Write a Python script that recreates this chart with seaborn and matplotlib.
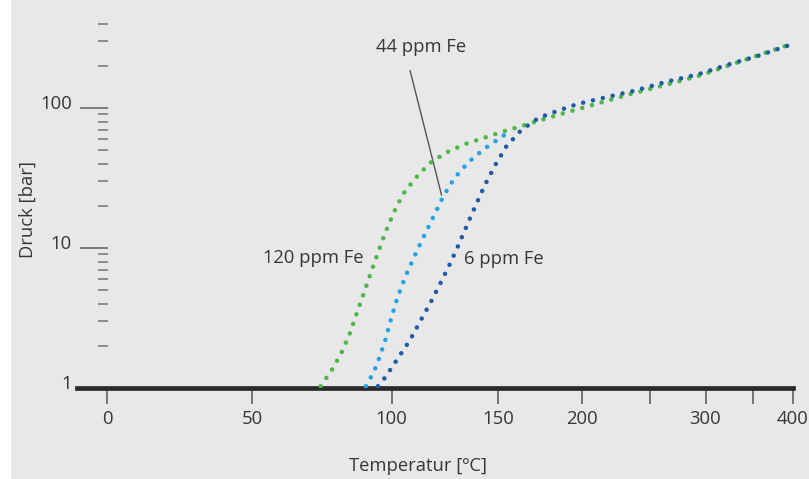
import numpy as np
import pandas as pd
import matplotlib
matplotlib.use("Agg")
import matplotlib.pyplot as plt
import matplotlib.transforms as mtransforms
from matplotlib.ticker import FixedLocator, FixedFormatter, NullLocator
from matplotlib.patches import Rectangle
import seaborn as sns

# ---- data ----
T_120 = [72.7, 76.7, 80.3, 83.3, 86.0, 88.8, 91.5, 94.4, 97.4, 101.0, 104.8, 110.2,
         116.4, 124.3, 133.2, 143.0, 153.2, 165.0, 176.9, 189.1, 209.9, 232.4, 256.4,
         292.7, 394.5]
P_120 = [1.03, 1.34, 1.79, 2.42, 3.39, 4.75, 6.60, 9.25, 12.9, 18.1, 24.3, 31.6,
         40.3, 48.2, 55.3, 61.4, 68.2, 75.6, 83.9, 92.5, 107, 124, 141, 169, 282]

T_44 = [89.6, 92.2, 94.2, 95.8, 97.4, 99.7, 102.3, 105.6, 109.5, 113.7, 118.1, 122.5,
        127.8, 134.8, 142.9, 152.7, 157.1]
P_44 = [1.03, 1.25, 1.50, 1.82, 2.20, 3.10, 4.37, 6.14, 8.58, 12.0, 16.6, 23.0,
        31.3, 41.0, 51.2, 63.1, 69.3]

T_6 = [94.4, 97.5, 102.5, 107.7, 112.2, 117.0, 121.6, 126.0, 130.3, 134.5, 138.8,
       143.4, 148.6, 154.4, 162.7, 172.7, 184.7, 197.4, 217.8, 239.6, 262.9, 292.8,
       323.0, 356.6, 394.5]
P_6 = [1.03, 1.20, 1.62, 2.19, 2.99, 4.11, 5.69, 7.78, 10.8, 15.0, 20.7, 28.7, 39.2,
       52.9, 69.3, 84.8, 95.7, 107, 120, 134, 153, 174, 204, 236, 280]

series_names = ["120 ppm Fe", "44 ppm Fe", "6 ppm Fe"]
x_tick_pos = [10.35, 50, 100, 150, 200, 250, 300, 350, 400]
x_tick_lab = ["0", "50", "100", "150", "200", "", "300", "", "400"]
y_major = [1, 10, 100]
y_major_lab = ["1", "10", "100"]
y_minor = [2, 3, 4, 5, 6, 7, 8, 9, 20, 30, 40, 50, 60, 70, 80, 90, 200, 300, 400]

colors = {"120 ppm Fe": "#4cb847", "44 ppm Fe": "#20a4e6", "6 ppm Fe": "#1f5ca6"}

df = pd.concat([
    pd.DataFrame({"T": T_120, "P": P_120, "s": series_names[0]}),
    pd.DataFrame({"T": T_44, "P": P_44, "s": series_names[1]}),
    pd.DataFrame({"T": T_6, "P": P_6, "s": series_names[2]}),
], ignore_index=True)

# ---- figure ----
sns.set_theme(style="white")
plt.rcParams["font.family"] = ["Open Sans", "DejaVu Sans"]
BG = "#e8e8e8"
TXT = "#363636"
FS_TICK = 13.3
FS_LAB = 13.2

W, H = 809, 479
fig = plt.figure(figsize=(W / 100, H / 100), dpi=100, facecolor=BG)
fig.patches.append(Rectangle((0, 0), 11 / W, 1, transform=fig.transFigure,
                             facecolor="white", edgecolor="none", zorder=-10))
ax = fig.add_axes([77 / W, 1 - 388 / H, (793 - 77) / W, (388 - 15) / H])
ax.set_facecolor(BG)


def fwd(t):
    t = np.asarray(t, dtype=float)
    with np.errstate(divide="ignore", invalid="ignore"):
        return -1000.0 / (t + 273.15)


def inv(u):
    u = np.asarray(u, dtype=float)
    with np.errstate(divide="ignore", invalid="ignore"):
        return -1000.0 / u - 273.15


ax.set_xscale("function", functions=(fwd, inv))
ax.set_yscale("log")

dot = (0, (0.001, 2.2))
for i, name in enumerate(series_names):
    sub = df[df["s"] == name]
    sns.lineplot(data=sub, x="T", y="P", ax=ax, color=colors[name], lw=3.3,
                 linestyle=dot, dash_capstyle="round", estimator=None,
                 sort=False, errorbar=None, legend=False, zorder=6 + i)

ax.set_xlim(3.3, 400.6)
ax.set_ylim(1, 10 ** (373 / 140))

# spines
for s in ["top", "right", "left"]:
    ax.spines[s].set_visible(False)
ax.spines["bottom"].set_linewidth(3.4)
ax.spines["bottom"].set_color("#2a2a2a")
ax.spines["bottom"].set_zorder(5)
ax.spines["left"].set_position(("axes", (108 - 77) / (793 - 77)))

# x ticks
ax.xaxis.set_major_locator(FixedLocator(x_tick_pos))
ax.xaxis.set_major_formatter(FixedFormatter(x_tick_lab))
ax.xaxis.set_minor_locator(NullLocator())
ax.tick_params(axis="x", which="major", direction="out", length=11.5, width=1.4,
               color="#737373", pad=4, labelsize=FS_TICK, labelcolor=TXT, bottom=True)

# y ticks
ax.yaxis.set_major_locator(FixedLocator(y_major))
ax.yaxis.set_major_formatter(FixedFormatter(y_major_lab))
ax.yaxis.set_minor_locator(FixedLocator(y_minor))
ax.yaxis.set_minor_formatter(FixedFormatter([""] * len(y_minor)))
ax.tick_params(axis="y", which="major", direction="out", length=20, width=1.3,
               color="#737373", pad=6, labelsize=FS_TICK, labelcolor=TXT, left=True)
ax.tick_params(axis="y", which="minor", direction="out", length=7.2, width=1.3,
               color="#858585", left=True)
shift = mtransforms.ScaledTranslation(0, 4 / 100, fig.dpi_scale_trans)
for lab in ax.get_yticklabels():
    lab.set_verticalalignment("center")
    lab.set_transform(lab.get_transform() + shift)

ax.set_xlabel("")
ax.set_ylabel("")
fig.text(418 / W, 1 - 466 / H, "Temperatur [ºC]", ha="center", va="center",
         fontsize=FS_LAB, color=TXT)
fig.text(28 / W, 1 - 209 / H, "Druck [bar]", ha="center", va="center",
         rotation=90, fontsize=FS_LAB, color=TXT)

# series labels
ax.text(88.8, 8.5, "120 ppm Fe", ha="right", va="center", fontsize=FS_LAB, color=TXT)
ax.text(132.6, 8.35, "6 ppm Fe", ha="left", va="center", fontsize=FS_LAB, color=TXT)
ax.text(112.5, 274, "44 ppm Fe", ha="center", va="center", fontsize=FS_LAB, color=TXT)
ax.annotate("", xy=(121.9, 23.9), xytext=(107.8, 185),
            arrowprops=dict(arrowstyle="-", color="#555555", lw=1.0,
                            shrinkA=0, shrinkB=0))

fig.savefig("out.png", dpi=100, facecolor=BG)
